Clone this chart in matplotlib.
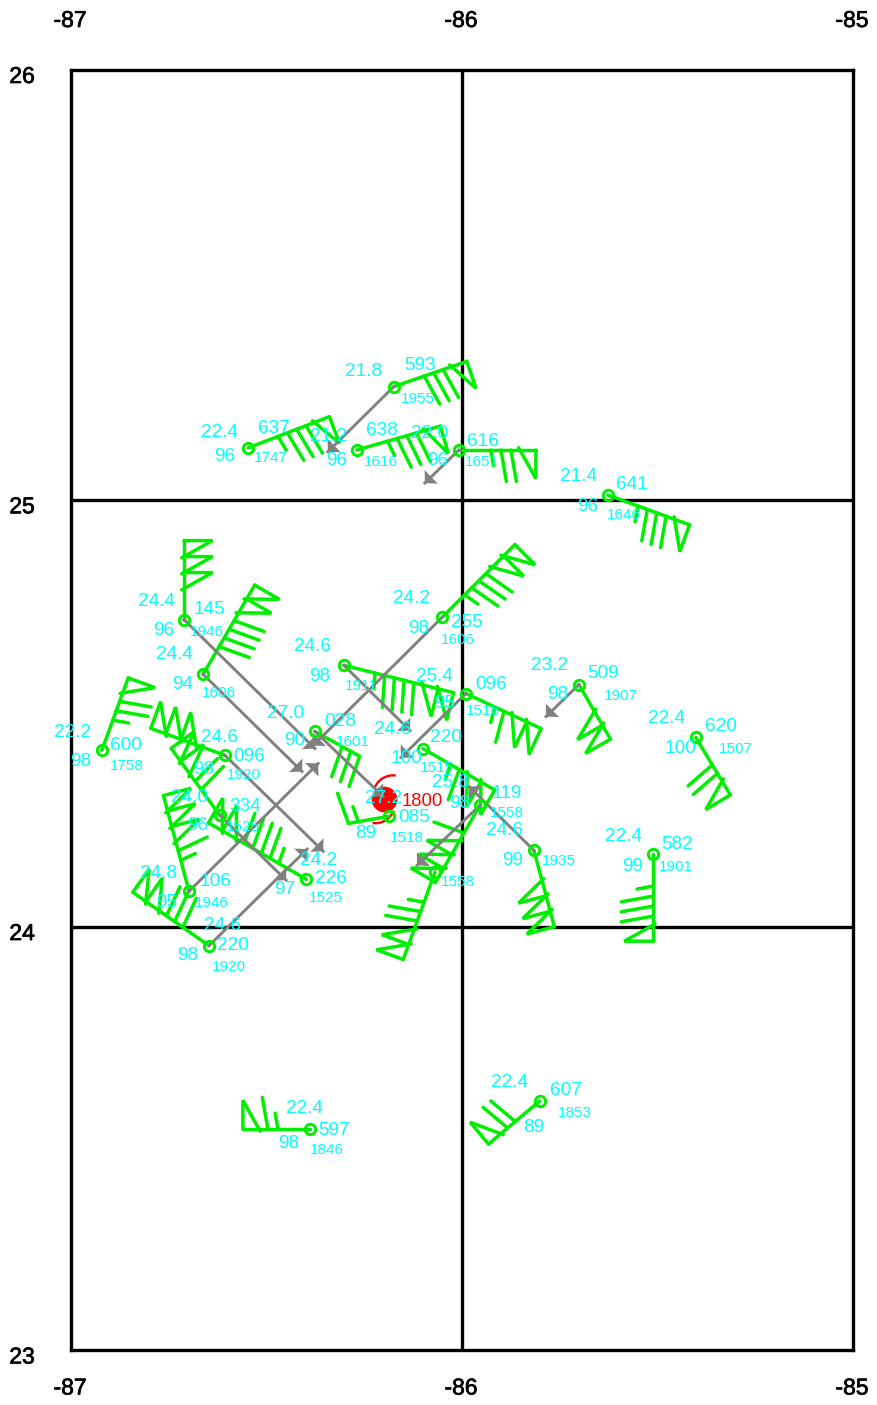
# Station plot: wind barbs, storm motion arrows and station labels
import numpy as np
import matplotlib
matplotlib.use("Agg")
import matplotlib.pyplot as plt
import matplotlib.patheffects as pe
from matplotlib.patches import Arc

plt.rcParams["font.family"] = ["Liberation Sans", "DejaVu Sans"]

# Station data
lon = [-86.174, -86.547, -86.269, -86.008, -85.627, -86.711, -86.662, -86.921, -86.606,
       -86.619, -86.398, -86.698, -86.647, -86.376, -86.187, -86.302, -86.051, -85.990,
       -86.100, -85.954, -86.069, -85.816, -85.512, -85.701, -85.402, -86.389, -85.801]
lat = [25.264, 25.121, 25.116, 25.116, 25.011, 24.720, 24.592, 24.414, 24.402,
       24.261, 24.111, 24.083, 23.955, 24.458, 24.259, 24.613, 24.725, 24.547,
       24.418, 24.285, 24.128, 24.179, 24.170, 24.568, 24.444, 23.523, 23.589]
wind_dir = [71, 69, 74, 90, 110, 0, 30, 20, 290, 324, 300, 345, 305, 119, 260, 104, 45, 115,
            120, 210, 200, 165, 180, 150, 149, 270, 230]
wind_spd = [80, 85, 85, 75, 85, 150, 140, 75, 150, 120, 145, 165, 130, 30, 15, 145, 135, 115,
            115, 160, 125, 150, 85, 100, 70, 65, 70]
temp = ["21.8", "22.4", "21.2", "22.0", "21.4", "24.4", "24.4", "22.2", "24.6", "24.0", "24.2",
        "24.8", "24.6", "27.0", "27.2", "24.6", "24.2", "25.4", "24.6", "25.8", "", "24.6",
        "22.4", "23.2", "22.4", "22.4", "22.4"]
rh = ["", "96", "96", "96", "96", "96", "94", "98", "98", "96", "97", "95", "98", "90", "89",
      "98", "98", "95", "100", "98", "", "99", "99", "98", "100", "98", "89"]
pres = ["593", "637", "638", "616", "641", "145", "", "600", "096", "334", "226", "106", "220",
        "028", "085", "", "255", "096", "220", "119", "", "", "582", "509", "620", "597", "607"]
obs_time = ["1955", "1747", "1616", "1651", "1646", "1946", "1606", "1758", "1920", "1525", "1525",
            "1946", "1920", "1601", "1518", "1911", "1606", "1516", "1515", "1558", "1558", "1935",
            "1901", "1907", "1507", "1846", "1853"]

# Motion arrows: station index, end lon, end lat
arrow_from = [0, 3, 5, 6, 8, 9, 11, 12, 13, 15, 16, 17, 19, 21, 23]
arrow_lon = [-86.343, -86.095, -86.376, -86.409, -86.355, -86.450, -86.368, -86.396,
             -86.202, -86.133, -86.381, -86.156, -86.115, -85.982, -85.785]
arrow_lat = [25.112, 25.039, 24.418, 24.364, 24.177, 24.109, 24.383, 24.182,
             24.306, 24.460, 24.425, 24.397, 24.144, 24.329, 24.493]

# Storm centre
storm_lon = -86.199
storm_lat = 24.299
storm_label = "1800"

# Tick values
lon_ticks = [-87, -86, -85]
lat_ticks = [26, 25, 24, 23]

# Label offsets from the station, in pixels (x right, y down)
temp_off = [(-30, -15), (-29, -15), (-28, -14), (-29, -17), (-29, -19), (-28, -18), (-29, -20),
            (-29, -18), (-6, -18), (-30, -18), (12, -19), (-31, -18), (13, -20), (-29, -18),
            (-5, -18), (-31, -19), (-31, -19), (-31, -17), (-30, -19), (-29, -23), (0, 0),
            (-29, -20), (-29, -18), (-29, -19), (-29, -19), (-5, -20), (-30, -18)]
rh_off = [(0, 0), (-23, 9), (-20, 10), (-21, 10), (-20, 11), (-20, 11), (-21, 10), (-21, 11),
          (-21, 14), (-22, 10), (-22, 10), (-22, 11), (-21, 10), (-20, 9), (-23, 17), (-24, 11),
          (-23, 11), (-21, 10), (-16, 10), (-20, -2), (0, 0), (-21, 10), (-20, 12), (-21, 10),
          (-15, 11), (-21, 15), (-6, 27)]
pres_off = [(26, -21), (26, -19), (25, -20), (24, -9), (24, -11), (25, -10), (0, 0), (24, -5),
            (24, 1), (25, -9), (25, -1), (26, -10), (24, 0), (25, -10), (25, 1), (0, 0), (25, 5),
            (25, -9), (23, -11), (27, -12), (0, 0), (0, 0), (24, -10), (24, -11), (25, -11),
            (24, 2), (26, -10)]
time_off = [(24, 12), (23, 10), (24, 12), (23, 12), (16, 20), (23, 12), (16, 19), (25, 16),
            (19, 20), (23, 12), (19, 19), (23, 12), (20, 21), (38, 11), (18, 22), (17, 21),
            (16, 23), (17, 17), (14, 19), (27, 8), (23, 10), (25, 11), (23, 13), (42, 11),
            (40, 12), (17, 21), (35, 12)]

GREEN = "#00ee00"
CYAN = "#00ffff"
GRAY = "#808080"
RED = "#ff0000"


# Mercator latitude axis, the degree lines are not evenly spaced
def merc(v):
    return np.log(np.tan(np.pi / 4 + np.radians(v) / 2))


def merc_inv(v):
    return np.degrees(2 * np.arctan(np.exp(v)) - np.pi / 2)


W, H = 877, 1405
fig = plt.figure(figsize=(W / 100, H / 100), dpi=100, facecolor="white")
ax = fig.add_axes([71 / W, (H - 1350) / H, 782 / W, (1350 - 69.5) / H])
ax.set_xlim(-87, -85)
ax.set_yscale("function", functions=(merc, merc_inv))
ax.set_ylim(23, 26)
ax.set_xticks([])
ax.set_yticks([])
ax.minorticks_off()
for s in ax.spines.values():
    s.set_linewidth(2.4)
ax.axvline(-86, color="black", lw=2.4, zorder=1)
ax.axhline(25, color="black", lw=2.4, zorder=1)
ax.axhline(24, color="black", lw=2.4, zorder=1)


def px_to_deg(x0, y0, dx, dy):
    # dx, dy in pixels with y pointing up
    p = ax.transData.transform((x0, y0))
    return ax.transData.inverted().transform((p[0] + dx, p[1] + dy))


def draw_barb(x0, y0, bearing, speed):
    b = np.radians(bearing)
    u = np.array([np.sin(b), np.cos(b)])
    perp = np.array([np.cos(b), -np.sin(b)])
    slant = np.cos(np.radians(10)) * perp + np.sin(np.radians(10)) * u

    flags = speed // 50
    full = (speed % 50) // 10
    half = (speed % 10) // 5
    bars = full + half
    if flags > 0:
        length = 31 + 16 * flags + 10 * bars
    else:
        length = 31 + 10 * (bars - 1)

    segs = [[(0, 0), tuple(u * length)]]
    pos = length
    for i in range(flags):
        outer = u * pos
        apex = outer + perp * 28.5
        base = u * (pos - 16)
        over = base + (base - apex) * 0.08
        segs.append([tuple(outer), tuple(apex), tuple(over)])
        pos -= 16
    if flags > 0:
        pos -= 9
    for i in range(bars):
        size = 16 if (half and i == bars - 1) else 32
        start = u * pos
        segs.append([tuple(start), tuple(start + slant * size)])
        pos -= 10

    for seg in segs:
        pts = [px_to_deg(x0, y0, p[0], p[1]) for p in seg]
        ax.plot([p[0] for p in pts], [p[1] for p in pts], color=GREEN, lw=2.5,
                solid_capstyle="round", solid_joinstyle="miter", zorder=3, clip_on=False)


def draw_arrow(x0, y0, x1, y1):
    ax.plot([x0, x1], [y0, y1], color=GRAY, lw=2.1, zorder=4)
    p0 = ax.transData.transform((x0, y0))
    p1 = ax.transData.transform((x1, y1))
    ang = np.arctan2(p0[1] - p1[1], p0[0] - p1[0])
    hx, hy = [x1], [y1]
    for a in (ang - np.radians(47), ang + np.radians(47)):
        p = px_to_deg(x1, y1, 13 * np.cos(a), 13 * np.sin(a))
        hx.append(p[0])
        hy.append(p[1])
    ax.fill(hx, hy, color=GRAY, lw=0, zorder=4)


def label(x0, y0, text, off, size, color=CYAN):
    if text == "":
        return
    ax.annotate(text, (x0, y0), xytext=(off[0], -off[1]), textcoords="offset pixels",
                ha="center", va="center", fontsize=size, color=color, zorder=6,
                annotation_clip=False)


# storm symbol
ax.plot([storm_lon], [storm_lat], "o", color=RED, ms=18.5, mew=0, zorder=2)
for cx, cy, t1, t2 in [(9, 4, 82, 160), (-9, -4, 262, 340)]:
    c = px_to_deg(storm_lon, storm_lat, cx, cy)
    ax.add_patch(Arc(c, 40 / 391.0, 40 / 427.0, theta1=t1, theta2=t2, color=RED, lw=1.7, zorder=2))
label(storm_lon, storm_lat, storm_label, (38, 2), 13.3, RED)

for i in range(len(lon)):
    draw_barb(lon[i], lat[i], wind_dir[i], wind_spd[i])

for i, k in enumerate(arrow_from):
    draw_arrow(lon[k], lat[k], arrow_lon[i], arrow_lat[i])

ax.plot(lon, lat, "o", mfc="none", mec=GREEN, ms=7.5, mew=2.1, zorder=5, clip_on=False)

for i in range(len(lon)):
    label(lon[i], lat[i], temp[i], temp_off[i], 13.7)
    label(lon[i], lat[i], rh[i], rh_off[i], 13.7)
    label(lon[i], lat[i], pres[i], pres_off[i], 13.7)
    label(lon[i], lat[i], obs_time[i], time_off[i], 11)

# tick labels, outside the frame
bold = [pe.withStroke(linewidth=0.5, foreground="black")]
for v in lon_ticks:
    ax.annotate(str(v), (v, 26), xytext=(-1, 49), textcoords="offset pixels", ha="center",
                va="center", fontsize=16.5, annotation_clip=False, path_effects=bold)
    ax.annotate(str(v), (v, 23), xytext=(-1, -38), textcoords="offset pixels", ha="center",
                va="center", fontsize=16.5, annotation_clip=False, path_effects=bold)
for v in lat_ticks:
    ax.annotate(str(v), (-87, v), xytext=(-49, -7), textcoords="offset pixels", ha="center",
                va="center", fontsize=16.5, annotation_clip=False, path_effects=bold)

fig.savefig("out.png", dpi=100, facecolor="white")
